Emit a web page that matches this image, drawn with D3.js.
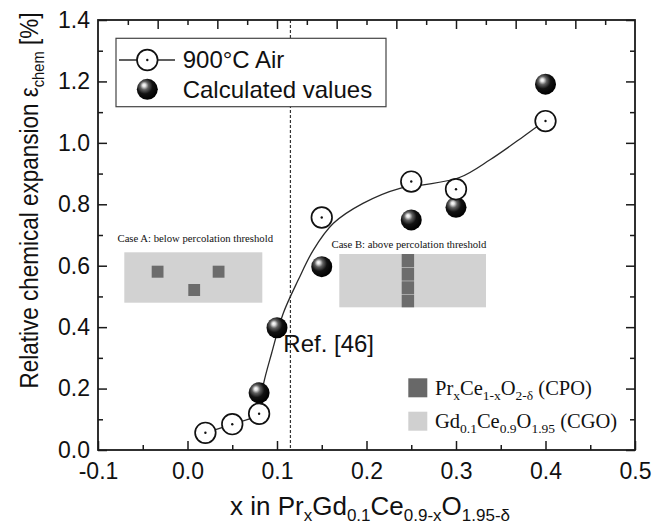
<!DOCTYPE html>
<html>
<head>
<meta charset="utf-8">
<script src="https://cdn.jsdelivr.net/npm/d3@7"></script>
<style>
  body { margin: 0; background: #fff; }
  text { font-family: "Liberation Sans", Arial, sans-serif; fill: #111; }
  .serif { font-family: "Liberation Serif", "Times New Roman", serif; }
</style>
</head>
<body>
<svg id="chart" width="653" height="525"></svg>
<script>
// Measured chemical expansion, 900 °C in air
const measX = [0.02, 0.05, 0.08, 0.15, 0.25, 0.30, 0.40];
const measY = [0.056, 0.084, 0.118, 0.757, 0.874, 0.849, 1.071];

// Calculated values
const calcX = [0.08, 0.10, 0.15, 0.25, 0.30, 0.40];
const calcY = [0.186, 0.398, 0.597, 0.749, 0.790, 1.191];

// Guide-to-the-eye line through the measured series
const fitX = [0.020, 0.050, 0.080, 0.0847, 0.094, 0.107, 0.1238, 0.1406, 0.163, 0.196, 0.2374, 0.2635, 0.3045, 0.338, 0.375, 0.399];
const fitY = [0.056, 0.084, 0.120, 0.212, 0.315, 0.445, 0.554, 0.651, 0.738, 0.803, 0.852, 0.863, 0.888, 0.945, 1.020, 1.071];

// Percolation threshold marker
const thresholdX = 0.115;

// Axis ticks
const xTicks = [-0.1, 0.0, 0.1, 0.2, 0.3, 0.4, 0.5];
const xMinor = [-0.05, 0.05, 0.15, 0.25, 0.35, 0.45];
const yTicks = [0.0, 0.2, 0.4, 0.6, 0.8, 1.0, 1.2, 1.4];
const yMinor = [0.1, 0.3, 0.5, 0.7, 0.9, 1.1, 1.3];

const legendLabels = ["900°C Air", "Calculated values"];
const refLabel = "Ref. [46]";
const caseLabels = ["Case A: below percolation threshold", "Case B: above percolation threshold"];

// ---------------------------------------------------------------
const svg = d3.select("#chart");
const L = 98, R = 635, T = 20, B = 450;

const x = d3.scaleLinear().domain([-0.1, 0.5]).range([L, R]);
const y = d3.scaleLinear().domain([0, 1.4]).range([B, T]);

const ink = "#1a1a1a";
const fmt = d => d.toFixed(1);

// Writes [text, isSubscript] runs into a <text>, shifting subscripts down.
function runs(t, parts, subSize, shift) {
  let cur = 0;
  parts.forEach(([s, isSub]) => {
    const target = isSub ? shift : 0;
    const ts = t.append("tspan").text(s);
    if (target !== cur) ts.attr("dy", target - cur);
    if (isSub) ts.attr("font-size", subSize);
    cur = target;
  });
}

// Shaded sphere for the calculated points
const defs = svg.append("defs");
const grad = defs.append("radialGradient").attr("id", "ball")
  .attr("cx", "40%").attr("cy", "38%").attr("r", "62%")
  .attr("fx", "34%").attr("fy", "30%");
[[0, "#ffffff"], [0.12, "#e2e2e2"], [0.32, "#606060"], [0.6, "#121212"], [1, "#000000"]]
  .forEach(([o, c]) => grad.append("stop").attr("offset", o).attr("stop-color", c));

// ---- schematic insets ------------------------------------------------
const inset = svg.append("g");
const lightGray = "#d2d2d2", darkGray = "#6c6c6c";

// Case A: isolated CPO grains in the CGO matrix
inset.append("text").attr("class", "serif").attr("x", 117.5).attr("y", 241.5)
  .attr("font-size", 10.7).text(caseLabels[0]);
inset.append("rect").attr("x", 124.3).attr("y", 252.3).attr("width", 138).attr("height", 50.4)
  .attr("fill", lightGray);
[[151.7, 265.7], [188.3, 284], [212.7, 265.7]].forEach(([px, py]) =>
  inset.append("rect").attr("x", px).attr("y", py).attr("width", 11.8).attr("height", 12)
    .attr("fill", darkGray));

// Case B: a continuous CPO path across the matrix
inset.append("text").attr("class", "serif").attr("x", 331.5).attr("y", 248.3)
  .attr("font-size", 10.7).text(caseLabels[1]);
inset.append("rect").attr("x", 339.3).attr("y", 254).attr("width", 146.7).attr("height", 53.3)
  .attr("fill", lightGray);
d3.range(4).forEach(i =>
  inset.append("rect").attr("x", 401.7).attr("y", 254 + i * 13.33 + (i ? 0.6 : 0))
    .attr("width", 12.4).attr("height", 13.33 - (i ? 0.6 : 0)).attr("fill", darkGray));

// ---- threshold line -----------------------------------------------------
svg.append("line")
  .attr("x1", x(thresholdX)).attr("x2", x(thresholdX))
  .attr("y1", T).attr("y2", B)
  .attr("stroke", "#333").attr("stroke-width", 1.2).attr("stroke-dasharray", "3,2");

// ---- axes -------------------------------------------------------------
function styleAxis(g) {
  g.select(".domain").remove();
  g.selectAll(".tick line").attr("stroke", ink).attr("stroke-width", 1.5);
  g.selectAll(".tick text").attr("fill", "#111").attr("font-size", 23)
    .attr("font-family", "'Liberation Sans', Arial, sans-serif");
}

svg.append("g").attr("transform", `translate(0,${B})`)
  .call(d3.axisBottom(x).tickValues(xTicks).tickSize(-9).tickPadding(12.5).tickFormat(fmt))
  .call(styleAxis);
svg.append("g").attr("transform", `translate(0,${B})`)
  .call(d3.axisBottom(x).tickValues(xMinor).tickSize(-5).tickFormat(""))
  .call(styleAxis);

svg.append("g").attr("transform", `translate(${L},0)`)
  .call(d3.axisLeft(y).tickValues(yTicks).tickSize(-9).tickPadding(8).tickFormat(fmt))
  .call(styleAxis);
svg.append("g").attr("transform", `translate(${L},0)`)
  .call(d3.axisLeft(y).tickValues(yMinor).tickSize(-5).tickFormat(""))
  .call(styleAxis);

svg.append("g").attr("transform", `translate(${R},0)`)
  .call(d3.axisRight(y).tickValues(yTicks).tickSize(-9).tickFormat(""))
  .call(styleAxis);
svg.append("g").attr("transform", `translate(${R},0)`)
  .call(d3.axisRight(y).tickValues(yMinor).tickSize(-5).tickFormat(""))
  .call(styleAxis);

// top axis: 18 divisions, long tick on every second one
const topDiv = d3.range(1, 18).map(i => x.domain()[0] + i * (x.domain()[1] - x.domain()[0]) / 18);
svg.append("g").attr("transform", `translate(0,${T})`)
  .call(d3.axisTop(x).tickValues(topDiv.filter((d, i) => i % 2 === 1)).tickSize(-9).tickFormat(""))
  .call(styleAxis);
svg.append("g").attr("transform", `translate(0,${T})`)
  .call(d3.axisTop(x).tickValues(topDiv.filter((d, i) => i % 2 === 0)).tickSize(-5).tickFormat(""))
  .call(styleAxis);

// frame
svg.append("rect").attr("x", L).attr("y", T).attr("width", R - L).attr("height", B - T)
  .attr("fill", "none").attr("stroke", ink).attr("stroke-width", 1.8);

// ---- axis titles --------------------------------------------------------
const xt = svg.append("text").attr("x", 230).attr("y", 515).attr("font-size", 26);
runs(xt, [["x in Pr"], ["x", 1], ["Gd"], ["0.1", 1], ["Ce"], ["0.9-x", 1], ["O"], ["1.95-δ", 1]], 17, 6);

const yt = svg.append("text").attr("text-anchor", "middle").attr("font-size", 26)
  .attr("transform", "translate(38,200.5) rotate(-90) scale(0.865,1)");
runs(yt, [["Relative chemical expansion ε"], ["chem", 1], [" [%]"]], 17, 6);

// ---- data ----------------------------------------------------------------
const meas = measX.map((v, i) => [v, measY[i]]);
const calc = calcX.map((v, i) => [v, calcY[i]]);
const fit = fitX.map((v, i) => [v, fitY[i]]);

svg.append("path").datum(fit)
  .attr("d", d3.line().x(d => x(d[0])).y(d => y(d[1])).curve(d3.curveCatmullRom.alpha(0.5)))
  .attr("fill", "none").attr("stroke", "#2a2a2a").attr("stroke-width", 1.3);

svg.append("g").selectAll("circle").data(calc).join("circle")
  .attr("cx", d => x(d[0])).attr("cy", d => y(d[1])).attr("r", 10.5)
  .attr("fill", "url(#ball)");

const mg = svg.append("g").selectAll("g").data(meas).join("g")
  .attr("transform", d => `translate(${x(d[0])},${y(d[1])})`);
mg.append("circle").attr("r", 10.3).attr("fill", "#fff").attr("stroke", "#111").attr("stroke-width", 1.7);
mg.append("circle").attr("r", 1.2).attr("fill", "#111");

svg.append("text").attr("x", 283.3).attr("y", 351.7).attr("font-size", 24).text(refLabel);

// ---- legend ----------------------------------------------------------------
const lg = svg.append("g");
lg.append("rect").attr("x", 116).attr("y", 38.3).attr("width", 270).attr("height", 68.4)
  .attr("fill", "#fff").attr("stroke", "#444").attr("stroke-width", 1.2);
lg.append("line").attr("x1", 119).attr("x2", 175).attr("y1", 60).attr("y2", 60)
  .attr("stroke", "#2a2a2a").attr("stroke-width", 1.3);
lg.append("circle").attr("cx", 147.3).attr("cy", 60).attr("r", 10.3)
  .attr("fill", "#fff").attr("stroke", "#111").attr("stroke-width", 1.7);
lg.append("circle").attr("cx", 147.3).attr("cy", 60).attr("r", 1.2).attr("fill", "#111");
lg.append("circle").attr("cx", 147.3).attr("cy", 89.3).attr("r", 10.5).attr("fill", "url(#ball)");
lg.append("text").attr("x", 182.7).attr("y", 68.3).attr("font-size", 24).text(legendLabels[0]);
lg.append("text").attr("x", 182.7).attr("y", 97.7).attr("font-size", 24).text(legendLabels[1]);

// ---- phase key -------------------------------------------------------------
const key = svg.append("g");
key.append("rect").attr("x", 408.3).attr("y", 378.3).attr("width", 19).attr("height", 19).attr("fill", "#686868");
key.append("rect").attr("x", 408.3).attr("y", 411.7).attr("width", 19).attr("height", 19).attr("fill", "#d0d0d0");
const k1 = key.append("text").attr("class", "serif").attr("x", 435).attr("y", 395).attr("font-size", 20.5);
runs(k1, [["Pr"], ["x", 1], ["Ce"], ["1-x", 1], ["O"], ["2-δ", 1], [" (CPO)"]], 13.5, 4.5);
const k2 = key.append("text").attr("class", "serif").attr("x", 435).attr("y", 428.3).attr("font-size", 20.5);
runs(k2, [["Gd"], ["0.1", 1], ["Ce"], ["0.9", 1], ["O"], ["1.95", 1], [" (CGO)"]], 13.5, 4.5);
</script>
</body>
</html>
